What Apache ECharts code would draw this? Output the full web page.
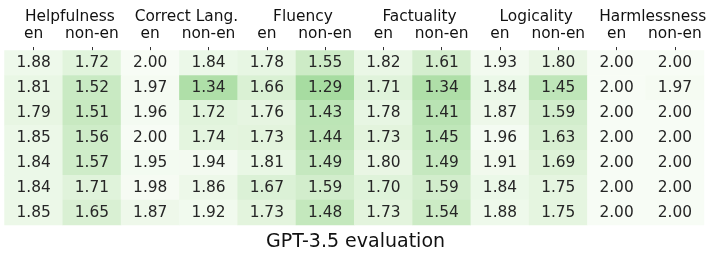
<!DOCTYPE html>
<html>
<head>
<meta charset="utf-8">
<script src="https://cdn.jsdelivr.net/npm/echarts@6/dist/echarts.min.js"></script>
<style>html,body{margin:0;padding:0;background:#fff;}#c{width:720px;height:261px;}</style>
</head>
<body>
<div id="c"></div>
<script>
const groups = ['Helpfulness', 'Correct Lang.', 'Fluency', 'Factuality', 'Logicality', 'Harmlessness'];
const langs = ['en', 'non-en'];
const title = 'GPT-3.5 evaluation';
const row1 = [1.88, 1.72, 2.00, 1.84, 1.78, 1.55, 1.82, 1.61, 1.93, 1.80, 2.00, 2.00];
const row2 = [1.81, 1.52, 1.97, 1.34, 1.66, 1.29, 1.71, 1.34, 1.84, 1.45, 2.00, 1.97];
const row3 = [1.79, 1.51, 1.96, 1.72, 1.76, 1.43, 1.78, 1.41, 1.87, 1.59, 2.00, 2.00];
const row4 = [1.85, 1.56, 2.00, 1.74, 1.73, 1.44, 1.73, 1.45, 1.96, 1.63, 2.00, 2.00];
const row5 = [1.84, 1.57, 1.95, 1.94, 1.81, 1.49, 1.80, 1.49, 1.91, 1.69, 2.00, 2.00];
const row6 = [1.84, 1.71, 1.98, 1.86, 1.67, 1.59, 1.70, 1.59, 1.84, 1.75, 2.00, 2.00];
const row7 = [1.85, 1.65, 1.87, 1.92, 1.73, 1.48, 1.73, 1.54, 1.88, 1.75, 2.00, 2.00];
const rows = [row1, row2, row3, row4, row5, row6, row7];
const greensR = ['#00441b', '#006d2c', '#238b45', '#41ab5d', '#74c476', '#a1d99b', '#c7e9c0', '#e5f5e0', '#f7fcf5'];

const xCats = [];
groups.forEach(g => langs.forEach(l => xCats.push(l)));
const yCats = rows.map((r, i) => 'r' + i);
const data = [];
rows.forEach((r, yi) => r.forEach((v, xi) => data.push([xi, yi, v])));

const font = 'DejaVu Sans';
const fs = 15.4;
const chart = echarts.init(document.getElementById('c'), null, {renderer: 'canvas'});
chart.setOption({
  animation: false,
  backgroundColor: '#ffffff',
  grid: {left: 4.5, right: 16, top: 50.5, bottom: 36},
  xAxis: [{
    type: 'category', data: xCats, position: 'top',
    axisLine: {show: false},
    axisTick: {show: true, alignWithLabel: true, length: 3.5, lineStyle: {color: '#333', width: 1}},
    axisLabel: {interval: 0, margin: 9, color: '#111', fontFamily: font, fontSize: fs},
    splitLine: {show: false}
  }, {
    type: 'category', data: groups, position: 'top', offset: 17.5,
    axisLine: {show: false}, axisTick: {show: false},
    axisLabel: {interval: 0, margin: 9, color: '#111', fontFamily: font, fontSize: fs, padding: [0, 0, 0, 14]},
    splitLine: {show: false}
  }],
  yAxis: {
    type: 'category', data: yCats, inverse: true, show: false
  },
  visualMap: {
    show: false, min: 0, max: 2, calculable: false,
    inRange: {color: greensR}
  },
  title: {
    text: title, left: 350.5, top: 228, textAlign: 'center',
    textStyle: {fontFamily: font, fontSize: 19, fontWeight: 'normal', color: '#111'}
  },
  series: [{
    type: 'heatmap', xAxisIndex: 0, data: data,
    itemStyle: {borderWidth: 0},
    label: {
      show: true, fontFamily: font, fontSize: fs, color: '#262626',
      formatter: p => p.value[2].toFixed(2)
    },
    emphasis: {disabled: true}
  }]
});
</script>
</body>
</html>
